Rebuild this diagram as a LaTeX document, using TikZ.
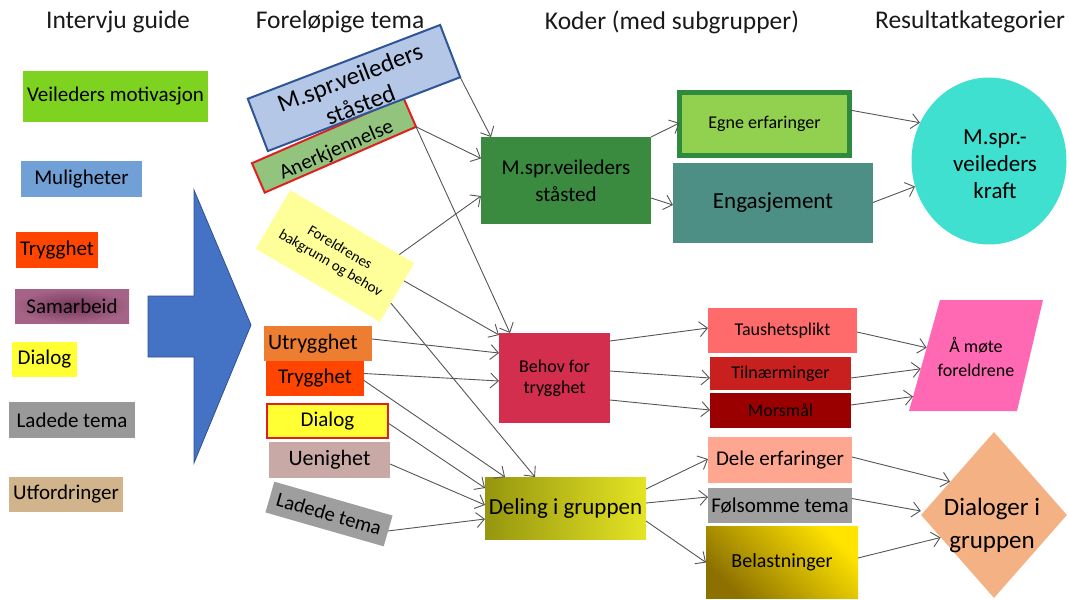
\documentclass[tikz,border=0pt]{standalone}
\usepackage{fontspec}
\setmainfont{Carlito}
\usetikzlibrary{arrows.meta,calc,shapes.geometric}
\definecolor{vmgreen}{RGB}{126,211,33}
\definecolor{mulblue}{RGB}{112,160,213}
\definecolor{tryred}{RGB}{255,69,0}
\definecolor{sampurp}{RGB}{165,100,135}
\definecolor{sampurpd}{RGB}{115,55,90}
\definecolor{diayel}{RGB}{255,255,51}
\definecolor{ladgray}{RGB}{153,153,153}
\definecolor{utftan}{RGB}{210,180,140}
\definecolor{arrowblue}{RGB}{68,114,196}
\definecolor{arrowdraw}{RGB}{47,82,143}
\definecolor{fbfill}{RGB}{180,199,231}
\definecolor{fbdraw}{RGB}{47,85,151}
\definecolor{akfill}{RGB}{147,196,125}
\definecolor{akdraw}{RGB}{224,32,32}
\definecolor{fofill}{RGB}{255,255,153}
\definecolor{utorange}{RGB}{237,125,49}
\definecolor{uefill}{RGB}{201,169,166}
\definecolor{ldgray}{RGB}{158,158,158}
\definecolor{msgreen}{RGB}{58,138,64}
\definecolor{egfill}{RGB}{146,208,80}
\definecolor{egdraw}{RGB}{46,139,62}
\definecolor{enteal}{RGB}{78,143,133}
\definecolor{bhred}{RGB}{212,46,78}
\definecolor{tapink}{RGB}{255,107,107}
\definecolor{tired}{RGB}{200,32,30}
\definecolor{modark}{RGB}{155,0,0}
\definecolor{dgleft}{RGB}{150,150,16}
\definecolor{dgright}{RGB}{228,228,36}
\definecolor{desal}{RGB}{255,166,145}
\definecolor{bldark}{RGB}{140,112,0}
\definecolor{bllight}{RGB}{255,228,0}
\definecolor{krturq}{RGB}{64,224,208}
\definecolor{pmpink}{RGB}{255,105,180}
\definecolor{dlpeach}{RGB}{244,177,131}
\definecolor{linegray}{RGB}{85,85,85}
\definecolor{headtext}{RGB}{25,25,25}
\begin{document}
\begin{tikzpicture}[x=1pt,y=-1pt,
  bx/.style={rectangle, inner sep=0pt, outer sep=0pt, align=center, text=black},
  fz/.style 2 args={font=\fontsize{#1}{#2}\selectfont},
  head/.style={inner sep=0pt, text=headtext, font=\fontsize{25.5}{30}\selectfont},
  con/.style={draw=linegray, line width=0.9pt, -{Straight Barb[length=8pt,width=15pt,line width=0.9pt]}},
]
\useasboundingbox (0,0) rectangle (1069,600);

% headers
\node[head] (h1) at (118,22) {Intervju guide};
\node[head] (h2) at (340,22) {Foreløpige tema};
\node[head] (h3) at (672,22) {Koder (med subgrupper)};
\node[head] (h4) at (970,22) {Resultatkategorier};

% left column
\node[bx, fill=vmgreen, minimum width=185pt, minimum height=51pt, fz={21}{25}] (vm) at (115.5,96.5) {Veileders motivasjon};
\node[bx, fill=mulblue, minimum width=121pt, minimum height=36pt, fz={21}{25}] (mul) at (81.5,179) {Muligheter};
\node[bx, fill=tryred, minimum width=82pt, minimum height=36pt, fz={21}{25}] (try) at (57,250) {Trygghet};
\node[bx, inner color=sampurpd, outer color=sampurp, minimum width=114pt, minimum height=34pt, fz={21}{25}] (sam) at (72,306) {Samarbeid};
\node[bx, fill=diayel, minimum width=65pt, minimum height=35pt, fz={21}{25}] (dia) at (44.5,359.5) {Dialog};
\node[bx, fill=ladgray, minimum width=126pt, minimum height=36pt, fz={21}{25}] (lad) at (72,420) {Ladede tema};
\node[bx, fill=utftan, minimum width=114pt, minimum height=35pt, fz={21}{25}] (utf) at (66,494.5) {Utfordringer};

% big arrow
\filldraw[fill=arrowblue, draw=arrowdraw, line width=0.8pt]
  (148,296) -- (194,296) -- (194,190) -- (251,325) -- (194,463) -- (194,357) -- (148,357) -- cycle;

% Foreløpige tema
\node[bx, fill=fofill, minimum width=144pt, minimum height=68pt, rotate=-30.5, fz={15}{18}] (fo) at (335,256) {Foreldrenes\\bakgrunn og behov};
\node[bx, fill=akfill, draw=akdraw, line width=2pt, minimum width=165pt, minimum height=32pt, rotate=23.5] (ak) at (334,145) {};
\node[bx, rotate=23.5, fz={21}{25}] (akt) at (336.5,150.5) {Anerkjennelse};
\node[bx, fill=fbfill, draw=fbdraw, line width=2pt, minimum width=206pt, minimum height=56pt, rotate=21] (fb) at (354,88) {};
\node[bx, rotate=21, fz={25}{29}] (fbt) at (355,91) {M.spr.veileders\\ståsted};
\node[bx, fill=utorange, minimum width=108pt, minimum height=35pt, text width=100pt, align=left, fz={22}{26}] (ut) at (318,343.5) {Utrygghet};
\node[bx, fill=tryred, minimum width=98pt, minimum height=35pt, fz={21}{25}] (tr) at (315,378.5) {Trygghet};
\node[bx, fill=diayel, draw=akdraw, line width=1.5pt, minimum width=121pt, minimum height=34pt, fz={21}{25}] (di) at (327.5,421) {Dialog};
\node[bx, fill=uefill, minimum width=121pt, minimum height=36pt, fz={22}{26}] (ue) at (329.5,460) {Uenighet};
\node[bx, fill=ldgray, minimum width=123pt, minimum height=32pt, rotate=-16, fz={20.5}{24}] (ld) at (329,514) {Ladede tema};

% Koder
\node[bx, fill=msgreen, minimum width=170pt, minimum height=87pt, fz={21}{27}] (ms) at (566,180.5) {M.spr.veileders\\ståsted};
\node[bx, fill=egfill, draw=egdraw, line width=5pt, minimum width=170pt, minimum height=63pt, fz={18}{22}] (eg) at (764.5,124) {Egne erfaringer};
\node[bx, fill=enteal, minimum width=200pt, minimum height=80pt, fz={23}{27}] (en) at (773,202.5) {Engasjement};
\node[bx, fill=bhred, minimum width=111pt, minimum height=90pt, fz={18}{21}] (bh) at (554.5,378) {Behov for\\trygghet};
\node[bx, fill=tapink, minimum width=149pt, minimum height=45pt, fz={18}{22}] (ta) at (782.5,330.5) {Taushetsplikt};
\node[bx, fill=tired, minimum width=141pt, minimum height=33pt, fz={18}{22}] (ti) at (780.5,373.5) {Tilnærminger};
\node[bx, fill=modark, minimum width=141pt, minimum height=35pt, fz={18}{22}] (mo) at (780.5,410.5) {Morsmål};
\node[bx, left color=dgleft, right color=dgright, minimum width=161pt, minimum height=62pt, fz={23}{27}] (dg) at (565.5,508) {Deling i gruppen};
\node[bx, fill=desal, minimum width=144pt, minimum height=46pt, fz={21}{25}] (de) at (780,460) {Dele erfaringer};
\node[bx, fill=ldgray, minimum width=144pt, minimum height=35pt, fz={21}{25}] (fs) at (780,505.5) {Følsomme tema};
\node[bx, top color=bllight, bottom color=bldark, shading angle=-45, minimum width=152pt, minimum height=72pt, fz={20}{24}] (bl) at (782,562) {Belastninger};

% Resultatkategorier
\node[ellipse, fill=krturq, inner sep=0pt, minimum width=155pt, minimum height=167pt] (kr) at (989,161) {};
\node[bx, fz={23}{27}] (krt) at (995,164) {M.spr.-\\veileders\\kraft};
\coordinate (pmtl) at (940,300);
\coordinate (pmtr) at (1043,300);
\coordinate (pmbr) at (1017,411);
\coordinate (pmbl) at (909,411);
\fill[pmpink] (pmtl) -- (pmtr) -- (pmbr) -- (pmbl) -- cycle;
\node[bx, fz={18}{24}] (pm) at (976,357) {Å møte\\foreldrene};
\node[diamond, fill=dlpeach, inner sep=0pt, minimum width=146pt, minimum height=166pt] (dl) at (994,515) {};
\node[bx, fz={25}{33}] (dlt) at (992,525) {Dialoger i\\gruppen};

% connectors: Foreløpige -> Koder
\draw[con] (fb.south east) -- ([xshift=10pt]ms.north west);
\draw[con] (ak.south east) -- ([yshift=22pt]ms.west);
\draw[con] (ak.south east) -- ([xshift=11pt]bh.north west);
\draw[con] ($(fo.north west)!0.88!(fo.north east)$) -- ([yshift=-15.5pt]ms.west);
\draw[con] ($(fo.north east)!0.3!(fo.south east)$) -- ([yshift=-2pt]bh.north west);
\draw[con] ($(fo.north east)!0.68!(fo.south east)$) -- ([xshift=50pt]dg.north west);
\draw[con] ([yshift=4.5pt]ut.east) -- ([yshift=25pt]bh.west);
\draw[con] ([yshift=5pt]tr.east) -- ([yshift=-3pt]bh.west);
\draw[con] ([yshift=-2pt]tr.east) -- ([xshift=20pt]dg.north west);
\draw[con] ([yshift=-2pt]di.east) -- ([yshift=20pt]dg.west);
\draw[con] ([yshift=-4pt]ue.east) -- ([yshift=3pt]dg.west);
\draw[con] (ld.east) -- ([yshift=-11pt]dg.west);

% Koder -> subgrupper
\draw[con] (ms.north east) -- ([yshift=1pt]eg.west);
\draw[con] ([yshift=-17.5pt]ms.east) -- ([yshift=-2.5pt]en.west);
\draw[con] ([yshift=37pt]bh.east) -- ([yshift=2.5pt]ta.west);
\draw[con] ([yshift=7pt]bh.east) -- ([yshift=-4.5pt]ti.west);
\draw[con] ([yshift=-22pt]bh.east) -- ([yshift=0.5pt]mo.west);
\draw[con] ([yshift=19pt]dg.east) -- ([yshift=1pt]de.west);
\draw[con] ([yshift=5pt]dg.east) -- ([yshift=8.5pt]fs.west);
\draw[con] ([yshift=-13pt]dg.east) -- ([yshift=-0.5pt]bl.west);

% subgrupper -> Resultatkategorier
\draw[con] ([yshift=14pt]eg.east) -- (kr.151);
\draw[con] (en.east) -- (kr.199);
\draw[con] ([yshift=-1.5pt]ta.east) -- ($(pmbl)!0.57!(pmtl)$);
\draw[con] ([yshift=-4.5pt]ti.east) -- ($(pmbl)!0.38!(pmtl)$);
\draw[con] ([yshift=5.5pt]mo.east) -- ($(pmbl)!0.13!(pmtl)$);
\draw[con] ([yshift=3pt]de.east) -- ($(dl.west)!0.4!(dl.north)$);
\draw[con] ([yshift=7pt]fs.east) -- ([yshift=4pt]dl.west);
\draw[con] ([yshift=4pt]bl.east) -- ($(dl.west)!0.27!(dl.south)$);
\end{tikzpicture}
\end{document}
